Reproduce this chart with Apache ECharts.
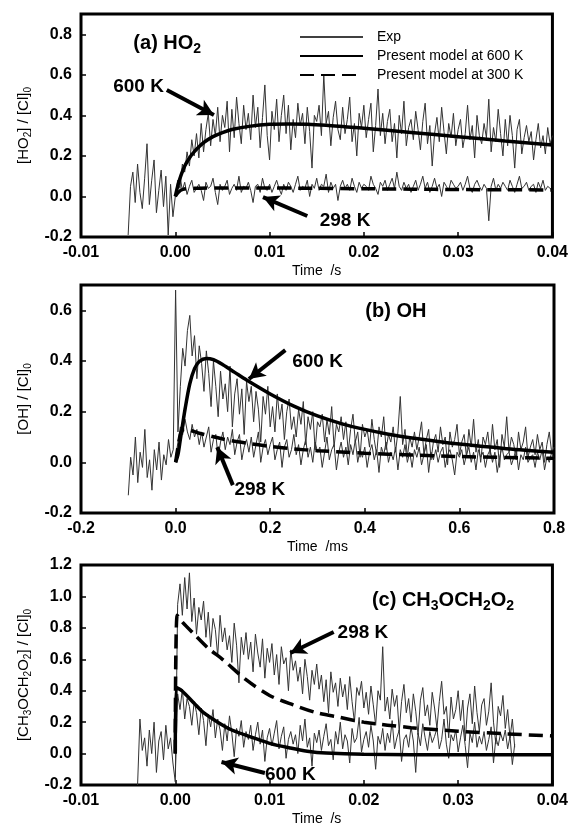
<!DOCTYPE html>
<html><head><meta charset="utf-8">
<script src="https://cdn.jsdelivr.net/npm/echarts@6/dist/echarts.min.js"></script>
<style>html,body{margin:0;padding:0;background:#fff}#c{width:571px;height:835px}</style>
</head><body><div id="c"></div>
<script>
// ---------- Panel (a) HO2 : time in s ----------
const aExp600T0 = -0.005, aExpDt = 0.00025;
const aExp600 = [
-0.19,0.05,0.12,-0.03,0.16,0.02,-0.06,0.09,0.26,-0.04,0.08,0.18,-0.08,0.03,0.13,-0.05,0.1,-0.19,0.06,-0.1,
0.0,
0.08,0.04,0.16,0.12,0.22,0.15,0.28,0.2,0.31,0.19,
0.36,0.22,0.33,0.41,0.25,0.38,0.3,0.44,0.27,0.4,
0.34,0.47,0.22,0.43,0.29,0.49,0.36,0.26,0.45,0.33,
0.41,0.28,0.5,0.34,0.44,0.24,0.39,0.55,0.3,0.18,
0.42,0.33,0.48,0.27,0.4,0.5,0.31,0.45,0.23,0.38,
0.29,0.46,0.35,0.41,0.26,0.44,0.32,0.14,0.4,0.37,
0.45,0.3,0.6,0.36,0.42,0.25,0.39,0.47,0.33,0.28,
0.44,0.31,0.38,0.49,0.27,0.36,0.2,0.41,0.34,0.45,
0.29,0.38,0.46,0.22,0.35,0.53,0.3,0.41,0.26,0.37,
0.43,0.27,0.36,0.19,0.4,0.31,0.47,0.25,0.34,0.38,
0.28,0.42,0.33,0.23,0.37,0.46,0.26,0.35,0.15,0.31,
0.39,0.27,0.44,0.32,0.21,0.36,0.29,0.41,0.25,0.33,
0.38,0.24,0.31,0.45,0.28,0.35,0.19,0.4,0.3,0.26,
0.36,0.29,0.48,0.22,0.34,0.27,0.43,0.31,0.2,0.38,
0.25,0.4,0.3,0.14,0.33,0.38,0.21,0.29,0.35,0.27,
0.32,0.18,0.28,0.36,0.24,0.3,0.21,0.34,0.26,0.3];
const aExp298T0 = 0;
const aExp298 = [
0.0,
0.06,0.1,0.03,0.07,0.01,0.05,0.08,0.02,0.04,0.06,
0.03,-0.02,0.07,0.04,0.05,0.09,0.02,-0.04,0.06,0.03,
0.05,0.08,0.01,0.04,0.06,0.03,0.1,0.02,0.05,0.04,
0.07,0.03,-0.03,0.05,0.06,0.02,0.09,0.04,0.03,0.06,
0.02,0.05,0.08,0.04,0.01,0.06,0.03,0.07,0.05,0.02,
0.06,0.1,0.03,0.05,0.04,0.08,0.0,0.06,0.04,0.09,
0.03,0.06,0.05,0.11,0.02,0.07,0.04,0.06,-0.02,0.05,
0.08,0.04,0.06,0.03,0.09,0.05,0.02,0.07,0.04,0.06,
0.05,0.03,0.1,0.06,0.04,0.01,0.07,0.05,0.08,0.03,
0.06,0.09,0.04,0.12,0.05,0.03,0.07,0.04,0.06,0.02,
0.05,0.08,0.03,0.06,0.1,0.04,0.07,0.02,0.05,0.09,
0.04,0.06,0.0,0.07,0.05,0.03,0.08,0.06,0.04,0.05,
0.07,0.03,0.06,0.1,0.04,0.02,0.06,0.08,0.05,0.03,
0.06,0.04,-0.12,0.05,0.09,0.03,0.06,0.04,0.07,0.05,
0.03,0.08,0.05,0.02,0.06,0.1,0.04,0.05,0.07,0.03,
0.05,0.06,0.02,0.07,0.04,0.08,0.03,0.05,0.04,0.03];
const aModel600 = [[0,0],[0.00025,0.05],[0.0005,0.09],[0.001,0.15],[0.0015,0.19],[0.002,0.22],[0.003,0.265],[0.004,0.295],[0.005,0.315],[0.006,0.33],[0.008,0.347],[0.01,0.356],[0.012,0.358],[0.014,0.356],[0.016,0.351],[0.018,0.344],[0.02,0.337],[0.025,0.316],[0.03,0.295],[0.035,0.274],[0.04,0.254]];
const aModel300 = [[0,0],[0.0003,0.02],[0.0008,0.035],[0.002,0.04],[0.005,0.042],[0.01,0.042],[0.015,0.04],[0.02,0.038],[0.025,0.036],[0.03,0.034],[0.035,0.033],[0.04,0.032]];

// ---------- Panel (b) OH : time in ms ----------
const bExp600T0 = -0.1, bExpDt = 0.005;
const bExp600 = [
-0.13,0.02,-0.05,0.1,-0.08,0.04,-0.02,0.13,-0.06,0.01,-0.11,0.05,-0.03,0.08,-0.07,0.03,-0.01,0.09,0.02,0.05,
0.68,
0.12,0.3,0.45,0.38,0.52,0.58,0.42,0.5,0.33,0.46,
0.39,0.28,0.44,0.35,0.22,0.4,0.3,0.18,0.36,0.25,
0.31,0.2,0.38,0.14,0.27,0.33,0.19,0.29,0.11,0.32,
0.24,0.3,0.16,0.28,0.21,0.08,0.26,0.19,0.3,0.14,
0.22,0.12,0.27,0.17,0.23,0.09,0.2,0.25,0.13,0.18,
0.1,0.21,0.15,0.24,0.07,0.18,0.13,0.2,0.05,0.16,
0.14,0.19,0.08,0.17,0.11,0.22,0.06,0.15,0.12,0.18,
0.09,0.16,0.04,0.13,0.19,0.08,0.12,0.02,0.15,0.1,
0.13,0.06,0.17,0.09,0.03,0.14,0.1,0.18,0.05,0.11,
0.08,0.14,0.04,0.12,0.26,0.07,0.13,0.02,0.1,0.06,
0.12,0.05,0.1,0.16,0.03,0.09,0.13,0.01,0.08,0.11,
0.04,0.14,0.07,0.1,-0.01,0.12,0.06,0.09,0.15,0.03,
0.08,0.11,0.02,0.13,0.06,0.17,0.04,0.09,0.0,0.1,
0.07,0.12,0.03,0.15,0.05,0.09,-0.02,0.11,0.06,0.18,
0.04,0.1,0.07,0.01,0.12,0.05,0.08,0.14,0.02,0.06,
0.09,0.03,0.11,0.05,0.08,0.0,0.07,0.12,0.04,0.06];
const bExp298T0 = 0;
const bExp298 = [
0.02,
0.08,0.14,0.11,0.17,0.12,0.09,0.15,0.1,0.13,0.07,
0.12,0.06,0.1,0.14,0.04,0.09,0.11,0.02,0.08,0.12,
0.05,0.1,0.07,0.13,0.03,0.08,0.11,0.01,0.06,0.09,
0.04,0.1,0.02,0.07,0.12,0.0,0.06,0.09,0.03,0.07,
0.1,0.01,0.05,0.08,-0.02,0.06,0.09,0.02,0.05,0.11,
0.03,0.07,-0.01,0.05,0.09,0.02,0.06,0.0,0.08,0.04,
0.06,-0.02,0.04,0.1,0.01,0.05,0.07,-0.03,0.04,0.08,
0.02,0.06,-0.01,0.07,0.03,0.09,0.0,0.05,0.02,0.06,
-0.02,0.04,0.07,0.01,0.05,-0.04,0.06,0.03,0.08,0.0,
0.04,0.01,0.06,-0.03,0.05,0.02,0.07,0.0,0.04,-0.02,
0.05,0.02,0.06,-0.01,0.03,0.07,-0.04,0.04,0.01,0.05,
0.0,0.04,0.06,-0.02,0.03,0.05,0.01,-0.05,0.04,0.02,
0.05,-0.01,0.03,0.06,0.0,0.04,-0.03,0.05,0.02,0.04,
-0.02,0.03,0.05,0.0,0.04,-0.04,0.02,0.06,0.01,0.03,
0.04,-0.01,0.02,0.05,-0.03,0.03,0.01,0.06,0.0,0.02,
0.03,-0.02,0.04,0.01,0.05,-0.03,0.02,0.0,0.04,0.01];
const bModel600 = [[0,0],[0.005,0.03],[0.01,0.09],[0.02,0.21],[0.03,0.31],[0.04,0.37],[0.05,0.398],[0.065,0.41],[0.08,0.405],[0.1,0.385],[0.125,0.355],[0.15,0.325],[0.2,0.27],[0.25,0.222],[0.3,0.183],[0.35,0.153],[0.4,0.13],[0.45,0.111],[0.5,0.096],[0.6,0.072],[0.7,0.054],[0.8,0.04]];
const bModel300 = [[0,0],[0.005,0.06],[0.01,0.11],[0.015,0.128],[0.02,0.13],[0.05,0.115],[0.1,0.092],[0.15,0.076],[0.2,0.063],[0.25,0.053],[0.3,0.046],[0.4,0.036],[0.5,0.029],[0.6,0.023],[0.7,0.019],[0.8,0.016]];

// ---------- Panel (c) CH3OCH2O2 : time in s ----------
const cExp298T0 = -0.004, cExpDt = 0.00025;
const cExp298 = [
-0.2,0.22,0.02,0.1,-0.08,0.15,0.0,0.2,-0.12,0.08,0.14,-0.04,0.18,0.03,0.1,-0.06,
-0.18,
0.95,1.08,0.88,1.12,0.92,1.15,0.84,0.99,0.76,0.93,
0.85,0.97,0.74,0.9,0.68,0.86,0.79,0.62,0.88,0.71,
0.8,0.66,0.75,0.58,0.83,0.69,0.45,0.74,0.63,0.77,
0.6,0.71,0.52,0.76,0.64,0.55,0.73,0.48,0.67,0.58,
0.7,0.5,0.63,0.44,0.68,0.57,0.61,0.4,0.66,0.53,
0.59,0.46,0.55,0.38,0.6,0.49,0.34,0.53,0.44,0.57,
0.41,0.5,0.33,0.47,0.26,0.52,0.39,0.45,0.3,0.48,
0.36,0.44,0.28,0.49,0.33,0.2,0.42,0.37,0.46,0.29,
0.39,0.25,0.43,0.31,0.18,0.4,0.34,0.68,0.27,0.36,
0.22,0.41,0.3,0.37,0.14,0.33,0.44,0.26,0.35,0.2,
0.38,0.27,0.12,0.34,0.42,0.24,0.31,0.18,0.39,0.29,
0.16,0.33,0.46,0.25,0.3,0.1,0.36,0.22,0.28,0.4,
0.21,0.34,0.08,0.29,0.38,0.19,0.43,0.26,0.14,0.31,
0.35,0.18,0.27,0.45,0.2,0.06,0.3,0.24,0.37,0.16,
0.28,0.1,0.22,0.04];
const cExp600T0 = 0;
const cExp600 = [
-0.15,
0.38,0.28,0.41,0.22,0.35,0.3,0.18,0.33,0.26,0.12,
0.29,0.21,0.05,0.25,0.17,0.28,0.1,0.22,0.15,0.02,
0.19,0.08,0.24,0.13,-0.02,0.16,0.11,0.21,0.04,0.14,
0.09,0.18,0.02,0.12,0.2,0.06,0.15,-0.05,0.1,0.16,
0.05,0.13,0.21,0.03,0.11,0.17,-0.03,0.09,0.14,0.06,
0.12,0.0,0.18,0.08,0.22,0.04,0.1,-0.08,0.13,0.07,
0.15,0.02,0.11,0.19,0.05,0.09,-0.04,0.14,0.06,0.2,
0.03,0.12,0.08,-0.06,0.16,0.07,0.1,0.23,0.01,0.09,
0.14,0.04,0.18,0.08,-0.1,0.11,0.06,0.16,0.02,0.13,
0.07,0.21,0.03,0.1,0.15,-0.05,0.09,0.12,0.04,0.17,
0.08,-0.12,0.13,0.05,0.19,0.1,0.02,0.14,0.07,0.11,
0.16,0.03,0.09,0.22,0.06,-0.03,0.12,0.08,0.15,0.01,
0.1,0.18,0.05,-0.09,0.13,0.07,0.2,0.04,0.11,0.06,
0.14,0.02,0.09,0.17,-0.06,0.1,0.05,0.13,0.08,0.15,
0.03,0.11,-0.07,0.06];
const cModel600 = [[0,0],[0.0001,0.42],[0.0007,0.4],[0.002,0.32],[0.003,0.26],[0.0045,0.2],[0.006,0.15],[0.0083,0.1],[0.01,0.065],[0.0122,0.035],[0.014,0.015],[0.016,0.003],[0.02,-0.005],[0.03,-0.008],[0.04,-0.008]];
const cModel300 = [[0,0],[0.0002,0.88],[0.0007,0.84],[0.002,0.76],[0.0035,0.67],[0.005,0.6],[0.0075,0.47],[0.01,0.37],[0.0125,0.31],[0.015,0.26],[0.0175,0.23],[0.02,0.2],[0.025,0.165],[0.03,0.142],[0.035,0.126],[0.04,0.112]];

// ---------- tick / axis texts ----------
const xTicksS = [-0.01, 0.04, 0.01];   // min, max, step (s)
const xTicksMs = [-0.2, 0.8, 0.2];     // min, max, step (ms)
const yA = [-0.2, 0.9, 0.2], yB = [-0.2, 0.7, 0.2], yC = [-0.2, 1.2, 0.2];
const legendNames = ['Exp', 'Present model at 600 K', 'Present model at 300 K'];

// ---------- annotations (data coords) ----------
const annA = [{t:'600 K', at:[-0.0039,0.54], from:[-0.0009,0.525], to:[0.0041,0.402]},
              {t:'298 K', at:[0.018,-0.121], from:[0.014,-0.0965], to:[0.0093,-0.003]}];
const annB = [{t:'600 K', at:[0.3,0.396], from:[0.232,0.443], to:[0.155,0.329]},
              {t:'298 K', at:[0.178,-0.109], from:[0.121,-0.09], to:[0.088,0.06]}];
const annC = [{t:'298 K', at:[0.0199,0.767], from:[0.0168,0.774], to:[0.0122,0.64]},
              {t:'600 K', at:[0.0122,-0.137], from:[0.0095,-0.124], to:[0.0049,-0.054]}];
const titleA = {t:'(a) HO{s|2}', at:[-0.0045,0.757]};
const titleB = {t:'(b) OH', at:[0.40,0.597]};
const titleC = {t:'(c) CH{s|3}OCH{s|2}O{s|2}', at:[0.0208,0.977]};

// ---------- build ----------
const FF = '"Liberation Sans", Arial, Helvetica, sans-serif';
function pairs(t0, dt, ys){ return ys.map((y,i)=>[+(t0 + i*dt).toFixed(6), y]); }
const grids = [
  {left:81, right:17, top:14, height:223},
  {left:81, right:17, top:285, height:228},
  {left:81, right:17, top:565, height:220}
].map(g=>Object.assign(g,{show:true, borderColor:'#000', borderWidth:3, containLabel:false}));

function xAx(i, r, dec, name){
  return {type:'value', gridIndex:i, min:r[0], max:r[1], interval:r[2],
    axisLine:{show:false, onZero:false}, splitLine:{show:false},
    axisTick:{inside:true, length:5, lineStyle:{color:'#000', width:1.5}},
    axisLabel:{formatter:v=>(Math.abs(v)<1e-9?0:v).toFixed(dec), color:'#000', fontSize:16, fontWeight:'bold', fontFamily:FF, margin:8},
    name:name, nameLocation:'middle', nameGap:27,
    nameTextStyle:{color:'#000', fontSize:14, fontFamily:FF}};
}
function yAx(i, r, name, showMax){
  return {type:'value', gridIndex:i, min:r[0], max:r[1], interval:r[2],
    axisLine:{show:false, onZero:false}, splitLine:{show:false},
    axisTick:{inside:true, length:5, lineStyle:{color:'#000', width:1.5}},
    axisLabel:{formatter:v=>(Math.abs(v)<1e-9?0:v).toFixed(1), color:'#000', fontSize:16, fontWeight:'bold', fontFamily:FF, margin:9, showMaxLabel:showMax},
    name:name, nameLocation:'middle', nameGap:42, nameRotate:90,
    nameTextStyle:{color:'#000', fontSize:15, fontFamily:FF,
      rich:{s:{fontSize:10, fontFamily:FF, color:'#000', padding:[9,0,0,0]}}}};
}
const richBig = {s:{fontSize:14, fontWeight:'bold', fontFamily:FF, color:'#000', padding:[13,0,0,0]}};
function annotations(anns, title){
  const pts = anns.map(a=>({coord:a.at, label:{formatter:a.t, position:'inside'}}));
  pts.push({coord:title.at, label:{formatter:title.t, position:'right', distance:0, fontSize:20, rich:richBig}});
  return {
    markPoint:{silent:true, symbol:'rect', symbolSize:1, itemStyle:{color:'rgba(0,0,0,0)'}, animation:false,
      label:{show:true, color:'#000', fontSize:19, fontWeight:'bold', fontFamily:FF}, data:pts},
    markLine:{silent:true, animation:false, symbol:['none','arrow'], symbolSize:[13,16],
      lineStyle:{color:'#000', width:4, type:'solid'}, label:{show:false},
      data:anns.map(a=>[{coord:a.from}, {coord:a.to}])}
  };
}
function expS(i, data){
  return {name:'Exp', type:'line', xAxisIndex:i, yAxisIndex:i, data:data, symbol:'none',
    lineStyle:{color:'#333', width:1}, itemStyle:{color:'#333'}, z:2, animation:false, clip:true};
}
function m600(i, data, extra){
  return Object.assign({name:'Present model at 600 K', type:'line', xAxisIndex:i, yAxisIndex:i, data:data, symbol:'none', smooth:0.3,
    lineStyle:{color:'#000', width:3.5}, itemStyle:{color:'#000'}, z:4, animation:false}, extra||{});
}
function m300(i, data){
  return {name:'Present model at 300 K', type:'line', xAxisIndex:i, yAxisIndex:i, data:data, symbol:'none', smooth:0.3,
    lineStyle:{color:'#000', width:3.5, type:[14,7]}, itemStyle:{color:'#000'}, z:3, animation:false};
}

const option = {
  backgroundColor:'#fff',
  animation:false,
  grid:grids,
  xAxis:[xAx(0,xTicksS,2,'Time  /s'), xAx(1,xTicksMs,1,'Time  /ms'), xAx(2,xTicksS,2,'Time  /s')],
  yAxis:[yAx(0,yA,'[HO{s|2}] / [Cl]{s|0}',false), yAx(1,yB,'[OH] / [Cl]{s|0}',false), yAx(2,yC,'[CH{s|3}OCH{s|2}O{s|2}] / [Cl]{s|0}',true)],
  legend:{orient:'vertical', left:294, top:25, itemWidth:63, itemHeight:14, itemGap:5, selectedMode:false,
    itemStyle:{opacity:0},
    data:[{name:legendNames[0], lineStyle:{color:'#000', width:1.3}}, legendNames[1], legendNames[2]],
    textStyle:{fontSize:14, fontFamily:FF, color:'#000', padding:[0,0,0,9]}},
  series:[
    expS(0, pairs(aExp600T0, aExpDt, aExp600)),
    expS(0, pairs(aExp298T0, aExpDt, aExp298)),
    m300(0, aModel300),
    m600(0, aModel600, annotations(annA, titleA)),
    expS(1, pairs(bExp600T0, bExpDt, bExp600)),
    expS(1, pairs(bExp298T0, bExpDt, bExp298)),
    m300(1, bModel300),
    m600(1, bModel600, annotations(annB, titleB)),
    expS(2, pairs(cExp298T0, cExpDt, cExp298)),
    expS(2, pairs(cExp600T0, cExpDt, cExp600)),
    m300(2, cModel300),
    m600(2, cModel600, annotations(annC, titleC))
  ]
};
const chart = echarts.init(document.getElementById('c'), null, {renderer:'canvas'});
chart.setOption(option);
</script></body></html>
